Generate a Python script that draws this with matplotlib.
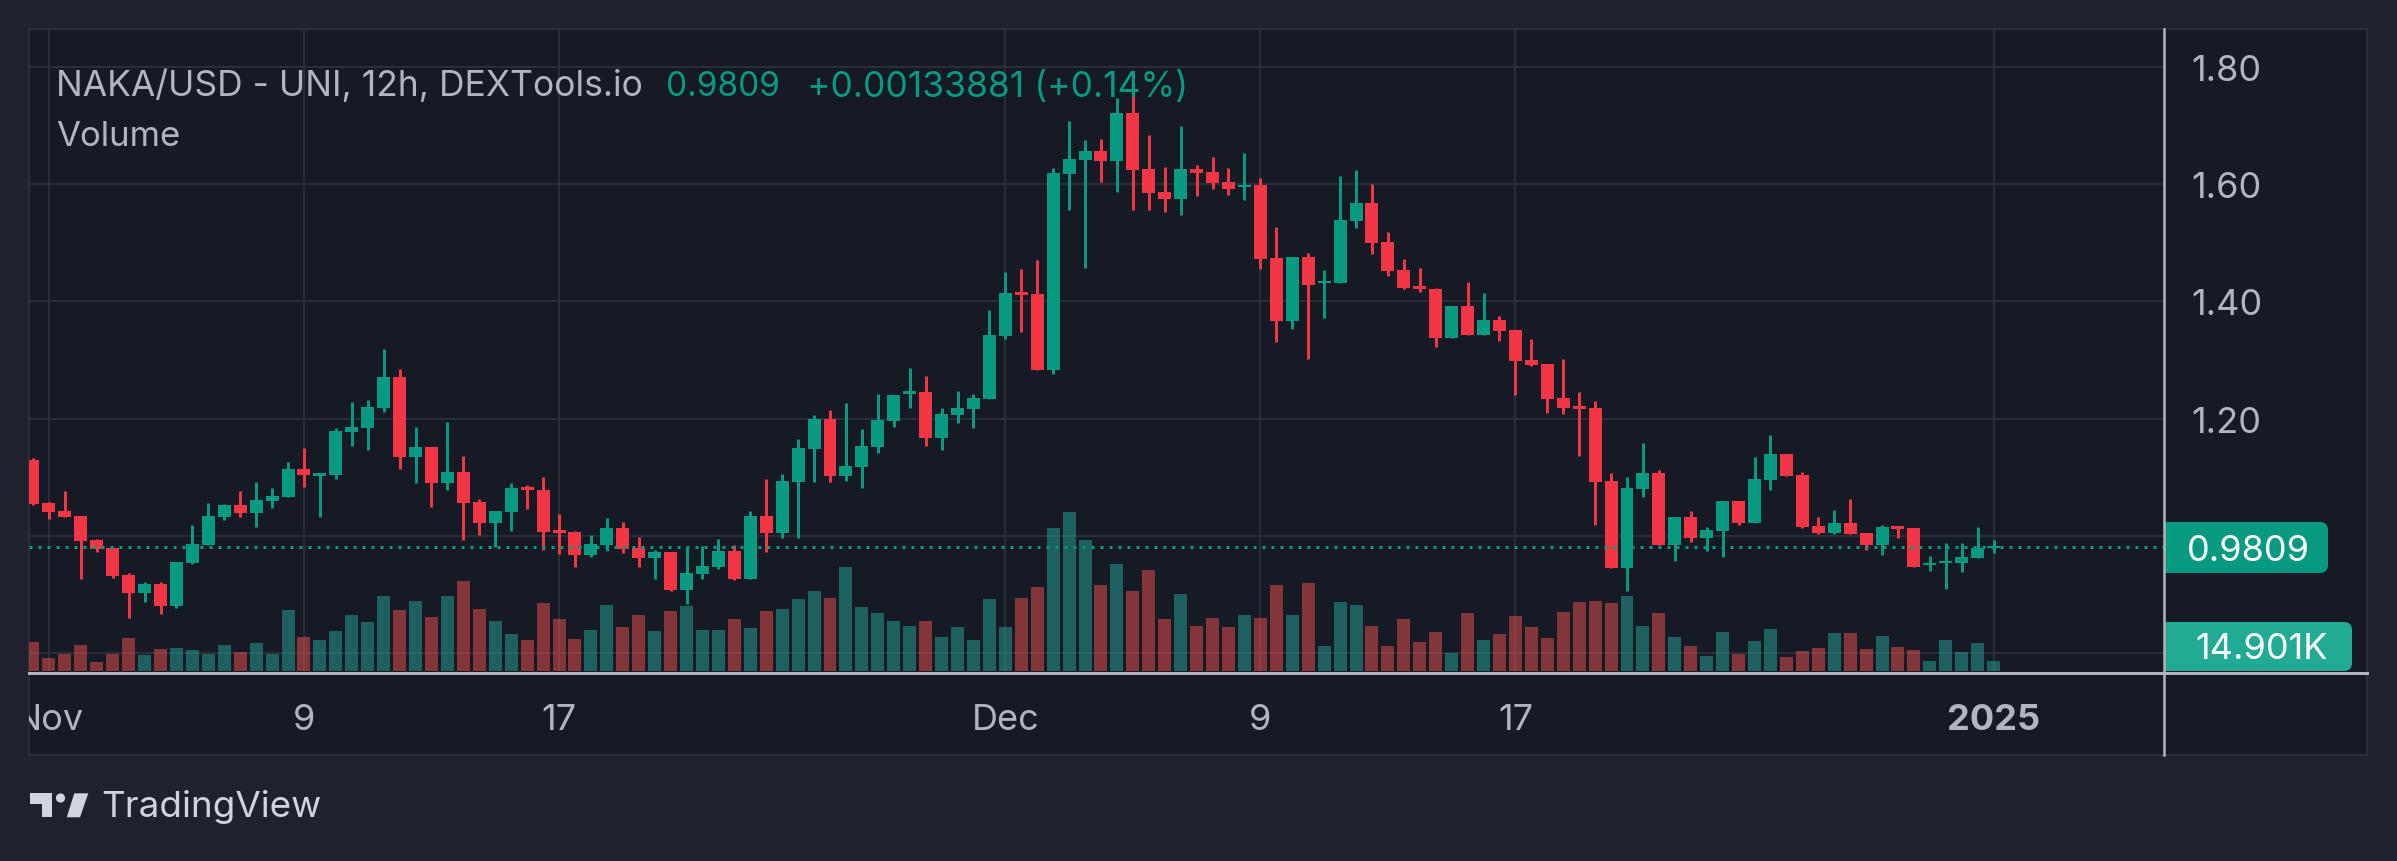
import matplotlib
matplotlib.use("Agg")
import matplotlib.pyplot as plt
import matplotlib.transforms as mtransforms
from matplotlib.patches import Rectangle, FancyBboxPatch, Circle, Polygon
from matplotlib.lines import Line2D
import numpy as np
import pandas as pd

# ---------------- data (12h candles, NAKA/USD) ----------------
start_time = "2024-10-31 12:00"
opens = [1.1296, 1.0563, 1.0426, 1.0341, 0.9932, 0.9795, 0.9335, 0.9028, 0.9182, 0.8806,
         0.9540, 0.9847, 1.0324, 1.0529, 1.0392, 1.0597, 1.0665, 1.1142, 1.1029, 1.1040,
         1.1773, 1.1841, 1.2182, 1.2711, 1.1347, 1.1517, 1.0904, 1.1091, 1.0580, 1.0222,
         1.0409, 1.0835, 1.0784, 1.0102, 1.0068, 0.9676, 0.9847, 1.0136, 0.9795, 0.9625,
         0.9727, 0.9079, 0.9352, 0.9471, 0.9744, 0.9267, 1.0341, 1.0051, 1.0921, 1.1483,
         1.1995, 1.1023, 1.1176, 1.1517, 1.1961, 1.2421, 1.2455, 1.1671, 1.2063, 1.2165,
         1.2336, 1.3410, 1.4160, 1.4126, 1.2830, 1.6172, 1.6411, 1.6564, 1.6394, 1.7212,
         1.6257, 1.5865, 1.5746, 1.6257, 1.6206, 1.6036, 1.5950, 1.5985, 1.4740, 1.3666,
         1.4757, 1.4314, 1.4314, 1.5371, 1.5678, 1.5013, 1.4535, 1.4262, 1.4211, 1.3376,
         1.3922, 1.3427, 1.3683, 1.3512, 1.3001, 1.2933, 1.2353, 1.2216, 1.2182, 1.0938,
         0.9454, 1.0801, 1.1074, 0.9847, 1.0324, 0.9966, 1.0085, 1.0597, 1.0222, 1.0955,
         1.1398, 1.1040, 1.0171, 1.0051, 1.0222, 1.0051, 0.9847, 1.0171, 1.0136, 0.9500,
         0.9534, 0.9540, 0.9625, 0.97956]
highs = [1.1330, 1.0580, 1.0767, 1.0341, 0.9950, 0.9795, 0.9369, 0.9216, 0.9216, 0.9557,
         1.0188, 1.0563, 1.0546, 1.0767, 1.0921, 1.0818, 1.1262, 1.1500, 1.1074, 1.1841,
         1.2285, 1.2319, 1.3188, 1.2847, 1.1858, 1.1517, 1.1944, 1.1364, 1.0631, 1.0426,
         1.0904, 1.0870, 1.1006, 1.0375, 1.0085, 1.0017, 1.0307, 1.0239, 0.9983, 0.9761,
         0.9727, 0.9812, 0.9830, 0.9949, 0.9847, 1.0426, 1.0972, 1.1057, 1.1654, 1.2063,
         1.2148, 1.2268, 1.1824, 1.2421, 1.2404, 1.2864, 1.2728, 1.2182, 1.2472, 1.2421,
         1.3853, 1.4501, 1.4552, 1.4706, 1.6274, 1.7076, 1.6752, 1.6769, 1.7468, 1.7536,
         1.6837, 1.6291, 1.6991, 1.6326, 1.6462, 1.6274, 1.6530, 1.6104, 1.5269, 1.4757,
         1.4825, 1.4535, 1.6138, 1.6240, 1.6002, 1.5183, 1.4723, 1.4569, 1.4228, 1.3922,
         1.4331, 1.4143, 1.3751, 1.3512, 1.3359, 1.2933, 1.3018, 1.2455, 1.2302, 1.1074,
         1.1006, 1.1586, 1.1125, 1.0324, 1.0426, 1.0153, 1.0597, 1.0597, 1.1347, 1.1722,
         1.1398, 1.1091, 1.0324, 1.0443, 1.0631, 1.0051, 1.0188, 1.0171, 1.0136, 0.9659,
         0.9881, 0.9881, 1.0153, 0.9932]
lows = [1.0530, 1.0290, 1.0320, 0.9267, 0.9727, 0.9284, 0.8602, 0.8875, 0.8670, 0.8772,
        0.9523, 0.9847, 1.0273, 1.0324, 1.0153, 1.0477, 1.0665, 1.0835, 1.0324, 1.0972,
        1.1535, 1.1466, 1.2114, 1.1142, 1.0904, 1.0494, 1.0784, 0.9932, 1.0017, 0.9812,
        1.0085, 1.0460, 0.9761, 0.9693, 0.9471, 0.9642, 0.9744, 0.9710, 0.9471, 0.9267,
        0.9062, 0.8841, 0.9267, 0.9437, 0.9250, 0.9267, 0.9727, 0.9966, 0.9966, 1.0921,
        1.0921, 1.0938, 1.0818, 1.1415, 1.1858, 1.2182, 1.1535, 1.1466, 1.1927, 1.1841,
        1.2336, 1.3359, 1.3478, 1.2830, 1.2762, 1.5558, 1.4569, 1.6036, 1.5865, 1.5558,
        1.5558, 1.5524, 1.5473, 1.5797, 1.5916, 1.5814, 1.5729, 1.4552, 1.3308, 1.3529,
        1.3018, 1.3717, 1.4314, 1.5251, 1.4808, 1.4433, 1.4211, 1.4160, 1.3222, 1.3376,
        1.3427, 1.3427, 1.3325, 1.2404, 1.2898, 1.2097, 1.2080, 1.1364, 1.0188, 0.9454,
        0.9062, 1.0665, 0.9847, 0.9574, 0.9898, 0.9744, 0.9642, 1.0188, 1.0222, 1.0784,
        1.1023, 1.0136, 1.0034, 1.0034, 1.0034, 0.9761, 0.9676, 0.9966, 0.9471, 0.9403,
        0.9096, 0.9386, 0.9625, 0.9710]
closes = [1.0546, 1.0409, 1.0324, 0.9915, 0.9778, 0.9318, 0.9028, 0.9182, 0.8806, 0.9557,
          0.9864, 1.0341, 1.0529, 1.0392, 1.0614, 1.0682, 1.1142, 1.1040, 1.1074, 1.1790,
          1.1858, 1.2200, 1.2711, 1.1347, 1.1517, 1.0904, 1.1091, 1.0563, 1.0222, 1.0426,
          1.0818, 1.0784, 1.0068, 1.0057, 0.9676, 0.9864, 1.0136, 0.9778, 0.9625, 0.9727,
          0.9079, 0.9369, 0.9488, 0.9744, 0.9267, 1.0341, 1.0051, 1.0938, 1.1500, 1.1995,
          1.1023, 1.1194, 1.1535, 1.1978, 1.2404, 1.2472, 1.1671, 1.2080, 1.2182, 1.2353,
          1.3427, 1.4143, 1.4110, 1.2830, 1.6189, 1.6428, 1.6564, 1.6394, 1.7212, 1.6240,
          1.5848, 1.5746, 1.6257, 1.6189, 1.6019, 1.5916, 1.5985, 1.4723, 1.3666, 1.4757,
          1.4280, 1.4348, 1.5388, 1.5678, 1.4996, 1.4518, 1.4228, 1.4211, 1.3376, 1.3922,
          1.3427, 1.3683, 1.3495, 1.2984, 1.2915, 1.2336, 1.2182, 1.2165, 1.0921, 0.9454,
          1.0818, 1.1074, 0.9847, 1.0324, 0.9966, 1.0102, 1.0597, 1.0222, 1.0972, 1.1398,
          1.1023, 1.0153, 1.0051, 1.0222, 1.0034, 0.9847, 1.0153, 1.0119, 0.9471, 0.9534,
          0.9568, 0.9642, 0.97956, 0.9809]
volumes_k = [42.8, 18.9, 24.9, 38.3, 13.0, 24.9, 48.7, 23.4, 32.3, 33.8,
             30.8, 24.9, 38.3, 27.9, 41.3, 24.9, 90.4, 50.2, 45.7, 59.2,
             83.0, 72.6, 111.3, 90.4, 103.9, 80.0, 111.3, 133.7, 91.9, 74.1,
             54.7, 45.7, 100.9, 77.0, 47.2, 60.6, 97.9, 65.1, 83.0, 59.2,
             89.0, 96.4, 60.6, 60.6, 77.0, 63.6, 89.0, 91.9, 106.8, 118.8,
             108.3, 154.5, 94.9, 86.0, 74.1, 66.6, 74.1, 50.2, 65.1, 45.7,
             106.8, 65.1, 108.3, 124.7, 212.6, 236.5, 194.7, 127.7, 159.0, 118.8,
             150.0, 77.5, 114.7, 67.1, 79.0, 65.6, 83.4, 79.0, 128.1, 83.4,
             131.1, 37.3, 102.8, 98.3, 67.1, 37.3, 77.5, 43.2, 58.1, 26.8,
             86.4, 46.2, 55.1, 82.0, 65.6, 49.2, 87.9, 102.8, 104.3, 101.3,
             111.8, 67.1, 86.4, 50.7, 37.3, 22.4, 58.1, 25.3, 44.7, 62.6,
             20.9, 29.8, 34.3, 56.6, 56.6, 32.8, 52.2, 35.8, 31.3, 14.9,
             46.2, 28.3, 41.7, 14.901]
price_ticks = [0.80, 1.00, 1.20, 1.40, 1.60, 1.80]
price_tick_labels = ["", "", "1.20", "1.40", "1.60", "1.80"]
time_tick_dates = ["2024-11-01", "2024-11-09", "2024-11-17", "2024-12-01",
                   "2024-12-09", "2024-12-17", "2025-01-01"]
time_tick_labels = ["Nov", "9", "17", "Dec", "9", "17", "2025"]
last_price = 0.9809
last_volume_label = "14.901K"
title_main = "NAKA/USD - UNI, 12h, DEXTools.io"
title_price = "0.9809"
title_change = "+0.00133881 (+0.14%)"

# ---------------- style ----------------
W, H = 2397, 861
OUTER_BG = "#1f222d"
PANE_BG = "#161a25"
GRID = "#2a2e39"
TEXT = "#b2b5be"
UP = "#089981"
DOWN = "#f23645"
VOL_UP = (0.149, 0.651, 0.604, 0.5)
VOL_DOWN = (0.937, 0.325, 0.314, 0.5)
FONT = ["Inter", "DejaVu Sans"]
plt.rcParams["font.family"] = FONT

def px(v):  # pixels -> points at dpi 100
    return v * 72.0 / 100.0

fig = plt.figure(figsize=(W / 100, H / 100), dpi=100, facecolor=OUTER_BG)

# pane geometry in pixels
L, R, T, B = 29, 2164, 29, 671
PR, PB = 2367, 755

bg = fig.add_axes([0, 0, 1, 1], zorder=0)
bg.set_xlim(0, W); bg.set_ylim(H, 0); bg.axis("off")
bg.add_patch(Rectangle((L, T), PR - L, PB - T, facecolor=PANE_BG, edgecolor=GRID, lw=px(2)))

rect = [L / W, 1 - B / H, (R - L) / W, (B - T) / H]

dates = pd.date_range(start_time, periods=len(closes), freq="12h")
idx = np.arange(len(closes))
xlim = ((L - 33) / 15.94, (R - 33) / 15.94)
ylim = (1.0 - (B - 536) / 586.5, 1.0 + (536 - T) / 586.5)

# grid axes
axg = fig.add_axes(rect, zorder=1)
axg.set_facecolor("none")
axg.set_xlim(*xlim); axg.set_ylim(*ylim)
tick_pos = [int(np.where(dates == pd.Timestamp(d))[0][0]) for d in time_tick_dates]
for p in price_ticks:
    axg.axhline(p, color=GRID, lw=px(2), zorder=0)
for tp in tick_pos:
    axg.axvline(tp, color=GRID, lw=px(2), zorder=0)
axg.axis("off")

# volume axes
axv = fig.add_axes(rect, zorder=2)
axv.set_facecolor("none")
axv.set_xlim(*xlim)
axv.set_ylim(0, (B - T) * 1.49)
vcol = [VOL_UP if c >= o else VOL_DOWN for o, c in zip(opens, closes)]
axv.bar(idx, volumes_k, width=0.815, color=vcol, linewidth=0)
axv.axis("off")

# candle axes
ax = fig.add_axes(rect, zorder=3)
ax.set_facecolor("none")
ax.set_xlim(*xlim); ax.set_ylim(*ylim)
ccol = [UP if c >= o else DOWN for o, c in zip(opens, closes)]
ax.vlines(idx, lows, highs, colors=ccol, lw=px(3), zorder=2)
bottoms = np.minimum(opens, closes)
heights = np.maximum(np.abs(np.array(closes) - np.array(opens)), 1.6 / 586.5)
ax.bar(idx, heights, bottom=bottoms, width=0.815, color=ccol, linewidth=0, zorder=3)
ax.axhline(last_price, color=UP, lw=px(3), ls=(0, (1, 2)), zorder=4)
ax.axis("off")

# ---------------- overlay (pixel coords) ----------------
ov = fig.add_axes([0, 0, 1, 1], zorder=5)
ov.set_facecolor("none")
ov.set_xlim(0, W); ov.set_ylim(H, 0); ov.axis("off")

ov.add_line(Line2D([R, R], [T, PB], color=TEXT, lw=px(2.5)))
ov.add_line(Line2D([L, PR], [673, 673], color=TEXT, lw=px(3)))

# price labels (baseline sits ~14 px below the gridline)
blend_y = mtransforms.blended_transform_factory(fig.transFigure, ax.transData)
lab_tr = mtransforms.offset_copy(blend_y, fig=fig, x=0, y=-px(14), units="points")
for p, lab in zip(price_ticks, price_tick_labels):
    if lab:
        fig.text(2191 / W, p, lab, transform=lab_tr, color=TEXT, fontsize=26,
                 va="baseline", ha="left", zorder=6)

# last price / last volume boxes
clip = Rectangle((R, 0), W - R, H, transform=ov.transData)
box1 = FancyBboxPatch((R - 20, 522), 2328 - R + 20, 51, boxstyle="round,pad=0,rounding_size=8",
                      facecolor=UP, edgecolor="none")
ov.add_patch(box1); box1.set_clip_path(clip)
fig.text(2248 / W, last_price, title_price, transform=lab_tr, color="white", fontsize=26,
         va="baseline", ha="center", zorder=7)
box2 = FancyBboxPatch((R - 20, 622), 2352 - R + 20, 49, boxstyle="round,pad=0,rounding_size=8",
                      facecolor="#22ab94", edgecolor="none")
ov.add_patch(box2); box2.set_clip_path(clip)
ov.text(2262, 659, last_volume_label, color="white", fontsize=26, va="baseline", ha="center")

# time labels
blend_x = mtransforms.blended_transform_factory(ax.transData, fig.transFigure)
clipbox = mtransforms.TransformedBbox(mtransforms.Bbox([[L / W, 0], [R / W, 1]]), fig.transFigure)
for tp, lab in zip(tick_pos, time_tick_labels):
    t = fig.text(tp, 1 - 730 / H, lab, transform=blend_x, color=TEXT, fontsize=26,
                 va="baseline", ha="center", fontweight="bold" if lab == "2025" else "normal",
                 zorder=6)
    t.set_clip_box(clipbox); t.set_clip_on(True)

# header texts
ov.text(56, 96.5, title_main, color=TEXT, fontsize=25.5, va="baseline", ha="left")
ov.text(666, 96.5, title_price, color=UP, fontsize=24, va="baseline", ha="left")
ov.text(807, 96.5, title_change, color=UP, fontsize=25.5, va="baseline", ha="left")
ov.text(56, 146.5, "Volume", color=TEXT, fontsize=25, va="baseline", ha="left")

# TradingView logo
LOGO = "#d1d4dc"
ov.add_patch(Rectangle((30, 793.3), 21.7, 10.7, facecolor=LOGO, edgecolor="none"))
ov.add_patch(Rectangle((41.7, 793.3), 10, 24, facecolor=LOGO, edgecolor="none"))
ov.add_patch(Circle((60.5, 798), 4.6, facecolor=LOGO, edgecolor="none"))
ov.add_patch(Polygon([(74.3, 793.3), (88.3, 793.3), (80, 817.3), (66.7, 817.3)],
                     closed=True, facecolor=LOGO, edgecolor="none"))
ov.text(101, 817, "TradingView", color=LOGO, fontsize=26.5, va="baseline", ha="left")

fig.savefig("out.png", dpi=100, facecolor=OUTER_BG)
